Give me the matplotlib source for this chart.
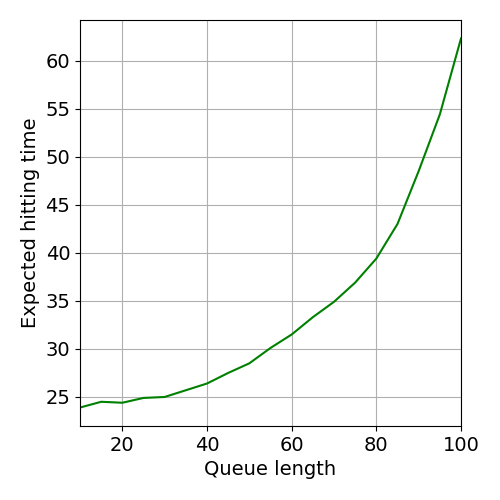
import matplotlib
matplotlib.use("Agg")
import matplotlib.pyplot as plt

queue_length = [10, 15, 20, 25, 30, 35, 40, 45, 50, 55, 60, 65, 70, 75, 80, 85, 90, 95, 100]
hitting_time = [23.9, 24.5, 24.4, 24.9, 25.0, 25.7, 26.4, 27.5, 28.5, 30.1, 31.5, 33.3,
                34.9, 36.9, 39.4, 43.0, 48.5, 54.4, 62.3]

fig, ax = plt.subplots(figsize=(5, 5), dpi=100)
fig.subplots_adjust(left=0.16, right=0.922, top=0.96, bottom=0.148)

ax.plot(queue_length, hitting_time, color="green")
ax.set_xlim(10, 100)
ax.set_xlabel("Queue length", fontsize=14)
ax.set_ylabel("Expected hitting time", fontsize=14)
ax.tick_params(labelsize=14)
ax.grid(True)

fig.savefig("out.png", dpi=100)
